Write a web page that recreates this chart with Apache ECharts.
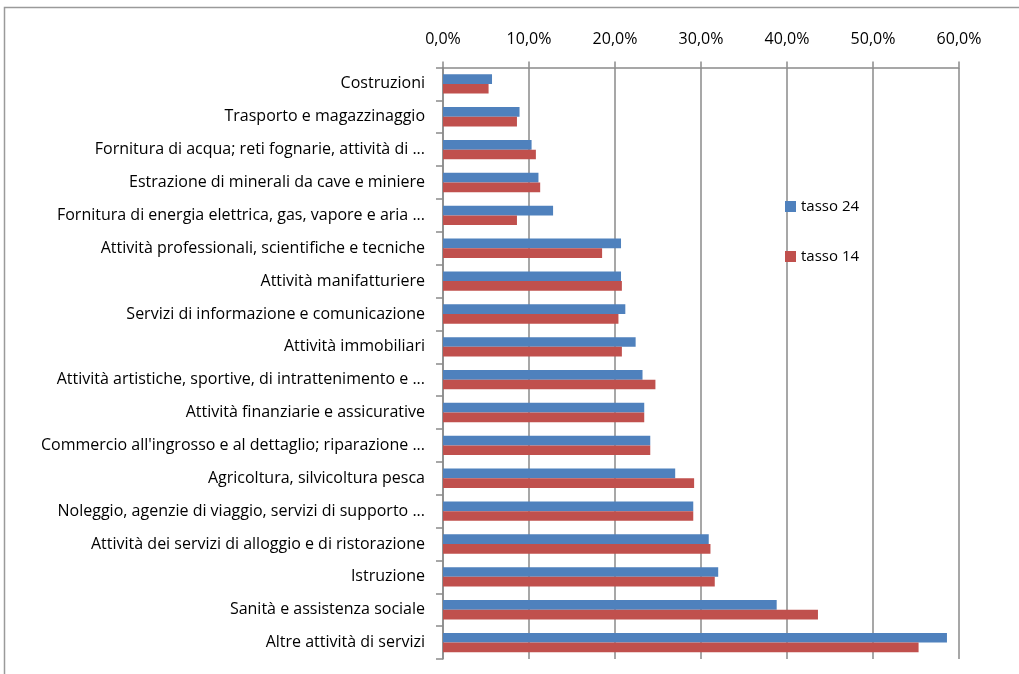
<!DOCTYPE html>
<html>
<head>
<meta charset="utf-8">
<script src="https://cdn.jsdelivr.net/npm/echarts@6/dist/echarts.min.js"></script>
<style>
html,body{margin:0;padding:0;background:#fff;}
#chart{width:1019px;height:674px;}
</style>
</head>
<body>
<div id="chart"></div>
<script>
const categories = [
  "Costruzioni",
  "Trasporto e magazzinaggio",
  "Fornitura di acqua; reti fognarie, attività di ...",
  "Estrazione di minerali da cave e miniere",
  "Fornitura di energia elettrica, gas, vapore e aria ...",
  "Attività professionali, scientifiche e tecniche",
  "Attività manifatturiere",
  "Servizi di informazione e comunicazione",
  "Attività immobiliari",
  "Attività artistiche, sportive, di intrattenimento e ...",
  "Attività finanziarie e assicurative",
  "Commercio all'ingrosso e al dettaglio; riparazione ...",
  "Agricoltura, silvicoltura pesca",
  "Noleggio, agenzie di viaggio, servizi di supporto ...",
  "Attività dei servizi di alloggio e di ristorazione",
  "Istruzione",
  "Sanità e assistenza sociale",
  "Altre attività di servizi"
];
const tasso24 = [5.7, 8.9, 10.3, 11.1, 12.8, 20.7, 20.7, 21.2, 22.4, 23.2, 23.4, 24.1, 27.0, 29.1, 30.9, 32.0, 38.8, 58.6];
const tasso14 = [5.3, 8.6, 10.8, 11.3, 8.6, 18.5, 20.8, 20.4, 20.8, 24.7, 23.4, 24.1, 29.2, 29.1, 31.1, 31.6, 43.6, 55.3];
const xTicks = {min: 0, max: 60, interval: 10};

const FONT = '"Open Sans", "Liberation Sans", sans-serif';
const chart = echarts.init(document.getElementById('chart'));
chart.setOption({
  animation: false,
  backgroundColor: '#fff',
  graphic: [{
    type: 'rect', left: 2, top: 5,
    shape: {width: 1200, height: 1000},
    style: {fill: 'none', stroke: '#9a9a9a', lineWidth: 1.5},
    silent: true, z: -1
  }],
  grid: {left: 443, right: 60, top: 67.5, bottom: 15, containLabel: false},
  legend: {
    orient: 'vertical', left: 780, top: 194,
    itemWidth: 11, itemHeight: 11, itemGap: 35,
    icon: 'rect',
    textStyle: {fontFamily: FONT, fontSize: 15, color: '#000'},
    data: ['tasso 24', 'tasso 14']
  },
  xAxis: {
    type: 'value', position: 'top',
    min: xTicks.min, max: xTicks.max, interval: xTicks.interval,
    axisLine: {show: true, lineStyle: {color: '#8a8a8a', width: 1.5}},
    axisTick: {show: true, length: 6, lineStyle: {color: '#8a8a8a', width: 1.5}},
    splitLine: {show: true, lineStyle: {color: '#8a8a8a', width: 1.5}},
    axisLabel: {
      fontFamily: FONT, fontSize: 16, color: '#000', margin: 20,
      formatter: v => v.toFixed(1).replace('.', ',') + '%'
    }
  },
  yAxis: {
    type: 'category', inverse: true, data: categories,
    axisLine: {show: true, lineStyle: {color: '#8a8a8a', width: 1.5}},
    axisTick: {show: true, length: 7, lineStyle: {color: '#8a8a8a', width: 1.5}},
    axisLabel: {fontFamily: FONT, fontSize: 16, color: '#000', margin: 18}
  },
  series: [
    {name: 'tasso 24', type: 'bar', data: tasso24, barGap: '0%', barCategoryGap: '41%',
     itemStyle: {color: '#4F81BD'}},
    {name: 'tasso 14', type: 'bar', data: tasso14, barGap: '0%', barCategoryGap: '41%',
     itemStyle: {color: '#C0504D'}}
  ]
});
</script>
</body>
</html>
